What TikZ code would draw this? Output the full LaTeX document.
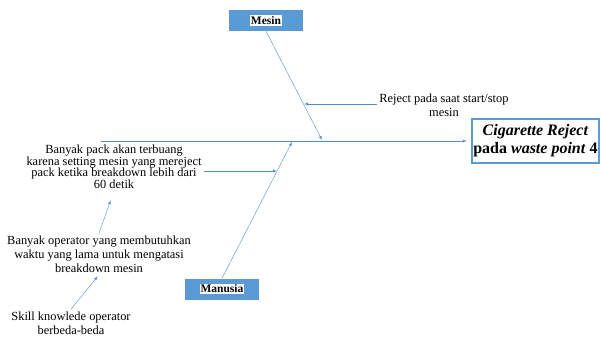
\documentclass[tikz,border=0pt]{standalone}
\usepackage{fontspec}
\setmainfont{Liberation Serif}
\definecolor{boneblue}{RGB}{84,141,204}
\definecolor{boxblue}{RGB}{91,155,213}

\begin{document}
\begin{tikzpicture}[x=1pt, y=-1pt,
    catbox/.style={rectangle, fill=boxblue, minimum width=74pt, minimum height=21pt},
    catlabel/.style={fill=white, inner sep=1pt, font=\bfseries\fontsize{11.5}{12}\selectfont},
    cause/.style={align=center, inner sep=2pt, font=\fontsize{12.4}{14.2}\selectfont},
    bone/.style={draw=boneblue, -latex}]

    \useasboundingbox (0,0) rectangle (601,338);

    \node[catbox] at (266,20.5) (M) {};
    \node[catlabel] at (M) (ML) {Mesin};
    \node[catbox] at (222,289) (H) {};
    \node[catlabel] at (H) (HL) {Manusia};

    \node[draw=boxblue, line width=2.5pt, align=center, inner sep=1pt, minimum width=127pt, minimum height=44pt,
          font=\bfseries\fontsize{16}{18}\selectfont] at (535.5,141) (E) {\textit{Cigarette Reject}\\pada \textit{waste point} 4};

    \node[cause] at (444,105) (R) {Reject pada saat start/stop\\mesin};
    \node[cause, font=\fontsize{12.4}{11.5}\selectfont] at (114,167) (P) {Banyak pack akan terbuang\\karena setting mesin yang mereject\\pack ketika breakdown lebih dari\\60 detik};
    \node[cause] at (99,254) (O) {Banyak operator yang membutuhkan\\waktu yang lama untuk mengatasi\\breakdown mesin};
    \node[cause] at (71,323) (K) {Skill knowlede operator\\berbeda-beda};

    \coordinate (S) at (101,141);
    \coordinate (MS) at (322,140);
    \coordinate (HS) at (292,142);
    \coordinate (MR) at (304,104);
    \coordinate (HP) at (277,171);

    \draw (S) edge[bone, shorten >=4pt] (E.west);
    \draw (M.south) edge[bone] (MS);
    \draw (H.north) edge[bone] (HS);
    \draw (R.west |- MR) edge[bone] (MR);
    \draw (P.east |- HP) edge[bone] (HP);
    \draw (O.north) edge[bone, shorten >=10pt] (P.south);
    \draw (K.north) edge[bone, shorten >=2pt] (O.south);

\end{tikzpicture}
\end{document}
